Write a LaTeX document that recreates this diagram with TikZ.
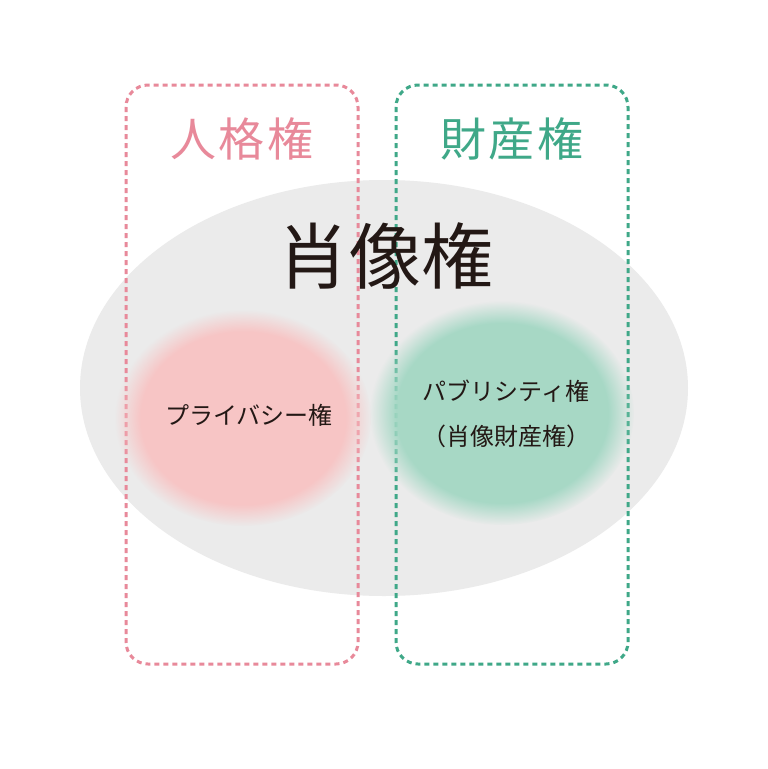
\documentclass[tikz,border=0pt]{standalone}
\usepackage{fontspec}
\newfontfamily\jpfont{Noto Sans CJK JP}
\usetikzlibrary{fadings}
\definecolor{kenpink}{HTML}{E8899A}
\definecolor{kengreen}{HTML}{3FA888}
\definecolor{blobpink}{HTML}{F8C3C3}
\definecolor{blobgreen}{HTML}{A2D7C3}
\definecolor{shozogray}{HTML}{EBEBEB}
\definecolor{sumi}{HTML}{231815}
\begin{document}
\begin{tikzpicture}
		[x=1pt,y=-1pt,
		waku/.style={line width=3pt,dash pattern=on 5pt off 4pt,rounded corners=22pt},
		blob/.style={path fading=circle with fuzzy edge 20 percent,opacity=.93},
		midashi/.style={font=\jpfont\fontsize{46}{46}\selectfont\addfontfeature{LetterSpace=6}},
		naiyo/.style={text=sumi,font=\jpfont\fontsize{24}{45}\selectfont,align=center}]
		\useasboundingbox[fill=white] (0,0) rectangle (768,769);
		% grey base
		\fill[shozogray] (384,388) ellipse [x radius=304,y radius=208];
		% dashed frames
		\draw[waku,kenpink] (126,85) rectangle (358,664);
		\draw[waku,kengreen] (396,85) rectangle (628,664);
		% soft blobs
		\fill[blob,blobpink] (243,418) ellipse [x radius=128,y radius=108];
		\fill[blob,blobgreen] (502,413) ellipse [x radius=132,y radius=112];
		% labels
		\node[midashi,text=kenpink] (jinkaku) at (242,139) {人格権};
		\node[midashi,text=kengreen] (zaisan) at (512,139) {財産権};
		\node[text=sumi,font=\jpfont\fontsize{72}{72}\selectfont] (shozo) at (385,256) {肖像権};
		\node[naiyo] (privacy) at (249,415) {プライバシー権};
		\node[naiyo] (publicity) at (506,414) {パブリシティ権\\（肖像財産権）};
	\end{tikzpicture}
\end{document}
